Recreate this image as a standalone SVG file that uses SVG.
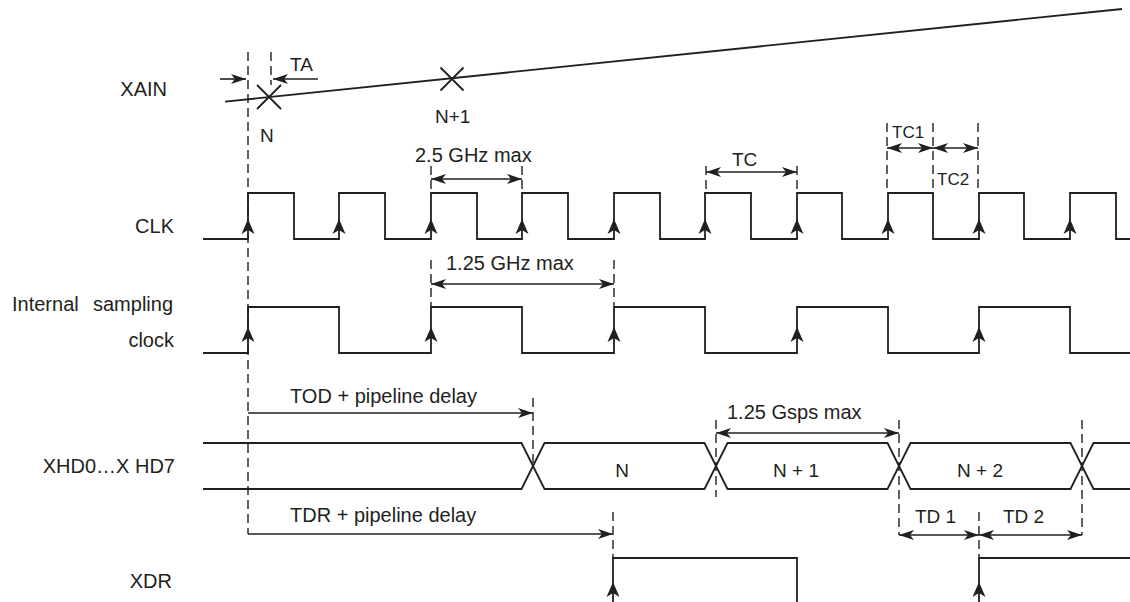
<svg xmlns="http://www.w3.org/2000/svg" width="1130" height="602" viewBox="0 0 1130 602">
<style>
text{font-family:"Liberation Sans",Arial,sans-serif;font-size:20px;fill:#231f20}
.s{fill:none;stroke:#231f20;stroke-width:1.8}
.d{fill:none;stroke:#231f20;stroke-width:1.4;stroke-dasharray:9 5}
.a{fill:none;stroke:#231f20;stroke-width:1.6;marker-end:url(#ah)}
.a2{fill:none;stroke:#231f20;stroke-width:1.6;marker-start:url(#ah);marker-end:url(#ah)}
.sm{font-size:17px}
.md{font-size:19px}
.e{text-anchor:end}
</style>
<defs>
<marker id="ah" viewBox="0 0 15 10" refX="15" refY="5" markerWidth="15" markerHeight="10" markerUnits="userSpaceOnUse" orient="auto-start-reverse">
<path d="M0,0 L15,5 L0,10 L4,5 Z" fill="#231f20"/>
</marker>
<path id="ua" d="M0,0 L6.5,15 L0,11 L-6.5,15 Z" fill="#231f20"/>
</defs>
<rect width="1130" height="602" fill="#fff"/>

<g id="labels">
<text class="e" x="167" y="96">XAIN</text>
<text class="e" x="174" y="233">CLK</text>
<text x="12" y="311">Internal <tspan x="93">sampling</tspan></text>
<text class="e" x="174" y="347">clock</text>
<text class="e" x="175" y="473">XHD0…X HD7</text>
<text class="e" x="172" y="588">XDR</text>
</g>

<g id="xain">
<path class="s" d="M225,101.7 L1122,9"/>
<path class="s" d="M257,85 L281,109 M281,85 L257,109"/>
<path class="s" d="M440.5,67.5 L463.5,90.5 M463.5,67.5 L440.5,90.5"/>
<text class="md" x="260" y="142">N</text>
<text class="md" x="435" y="123">N+1</text>
</g>

<g id="clk">
<path class="s" d="M203,239 H248 V193 H294 V239 H339 V193 H385 V239 H431 V193 H477 V239 H522 V193 H568 V239 H614 V193 H660 V239 H705 V193 H751 V239 H797 V193 H842 V239 H888 V193 H933 V239 H979 V193 H1024 V239 H1070 V193 H1116 V239 H1130"/>
<use href="#ua" x="248" y="219"/>
<use href="#ua" x="339" y="219"/>
<use href="#ua" x="431" y="219"/>
<use href="#ua" x="522" y="219"/>
<use href="#ua" x="614" y="219"/>
<use href="#ua" x="705" y="219"/>
<use href="#ua" x="797" y="219"/>
<use href="#ua" x="888" y="219"/>
<use href="#ua" x="979" y="219"/>
<use href="#ua" x="1070" y="219"/>
</g>

<g id="isc">
<path class="s" d="M203,353 H248 V307 H339 V353 H431 V307 H522 V353 H614 V307 H705 V353 H797 V307 H888 V353 H979 V307 H1070 V353 H1130"/>
<use href="#ua" x="248" y="327"/>
<use href="#ua" x="431" y="327"/>
<use href="#ua" x="614" y="327"/>
<use href="#ua" x="797" y="327"/>
<use href="#ua" x="979" y="327"/>
</g>

<g id="xhd">
<path class="s" d="M203,443 H521.5 L544.5,489 H704.5 L727.5,443 H887.5 L910.5,489 H1070.5 L1093.5,443 H1130"/>
<path class="s" d="M203,489 H521.5 L544.5,443 H704.5 L727.5,489 H887.5 L910.5,443 H1070.5 L1093.5,489 H1130"/>
<text class="md" x="622" y="477" text-anchor="middle">N</text>
<text class="md" x="796" y="477" text-anchor="middle">N + 1</text>
<text class="md" x="980" y="477" text-anchor="middle">N + 2</text>
</g>

<g id="xdr">
<path class="s" d="M613,602 V558 H797 V602"/>
<path class="s" d="M979,602 V558 H1130"/>
<use href="#ua" x="613" y="582"/>
<use href="#ua" x="979" y="582"/>
</g>

<g id="connectors">
<path class="d" d="M248,52 V534"/>
<path class="d" d="M271,52 V85"/>
<path class="a" d="M220,79 H246"/>
<path class="a" d="M318,79 H273"/>
<text class="md" x="290" y="71">TA</text>

<path class="d" d="M431,166 V193 M522,166 V193"/>
<path class="a2" d="M431,179 H522"/>
<text x="415" y="162">2.5 GHz max</text>

<path class="d" d="M706,166 V193 M797,166 V193"/>
<path class="a2" d="M706,172 H797"/>
<text class="md" x="732" y="166">TC</text>

<path class="d" d="M887,123 V193 M933,123 V193 M978,123 V193"/>
<path class="a2" d="M887,148 H933"/>
<path class="a2" d="M933,148 H978"/>
<text class="sm" x="892" y="138">TC1</text>
<text class="sm" x="937" y="185">TC2</text>

<path class="d" d="M431,260 V307 M614,260 V307"/>
<path class="a2" d="M431,284 H614"/>
<text x="446" y="270">1.25 GHz max</text>

<path class="d" d="M533,398 V466"/>
<path class="a" d="M248,413 H533"/>
<text x="290" y="403">TOD + pipeline delay</text>

<path class="d" d="M716,420 V497 M899,420 V535 M1082,420 V535"/>
<path class="a2" d="M716,433 H899"/>
<text x="727" y="419">1.25 Gsps max</text>

<path class="d" d="M613,512 V558"/>
<path class="a" d="M248,534 H613"/>
<text x="290" y="522">TDR + pipeline delay</text>

<path class="d" d="M979,512 V558"/>
<path class="a2" d="M899,535 H979"/>
<path class="a2" d="M979,535 H1082"/>
<text class="md" x="915" y="523">TD 1</text>
<text class="md" x="1003" y="523">TD 2</text>
</g>
</svg>
